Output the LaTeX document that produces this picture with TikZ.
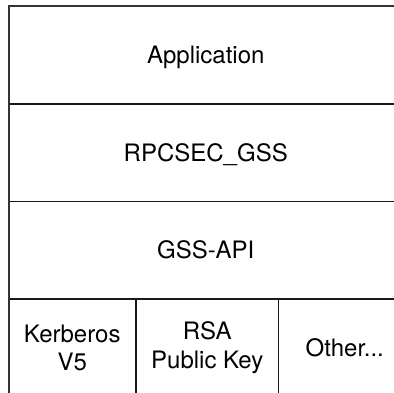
\documentclass[tikz,border=0pt]{standalone}
\usepackage{fontspec}
\setmainfont{TeX Gyre Heros}
\usepackage{tikz}
\usetikzlibrary{positioning}

\begin{document}
\begin{tikzpicture}[
		x=1pt, y=1pt,
		node distance = 0pt and 0pt,
		every node/.style = {font=\fontsize{24}{28.4}\selectfont, inner sep=0pt, outer sep=0pt},
		layer/.style = {draw=black!90, line width=1.3pt, minimum width=394.5pt, minimum height=97.5pt, text height=17.2pt, text depth=0pt},
		cell/.style = {draw=black!90, line width=1.1pt, minimum height=97.5pt, align=center}
		]
		\clip (0,0) rectangle (394,392);
		
		% Layers --------------------------------------------------------
		\node[layer, anchor=north west] (app) at (8.5,385.5) {Application};
		\node[layer, below=of app] (rpcsec) {RPCSEC\_GSS};
		\node[layer, below=of rpcsec] (gssapi) {GSS-API};
		
		% Mechanisms ----------------------------------------------------
		\node[cell, minimum width=127.5pt, below=of gssapi.south west, anchor=north west] (krb)
		{Kerberos\\V5};
		\node[cell, minimum width=142.5pt, right=of krb] (rsa)
		{RSA\\Public Key};
		\node[cell, minimum width=132.5pt, right=of rsa] (other)
		{Other...};
		
		% Frame ---------------------------------------------------------
		\draw[black!80, line width=2pt] (app.north west) rectangle (other.south east);
	\end{tikzpicture}
\end{document}
